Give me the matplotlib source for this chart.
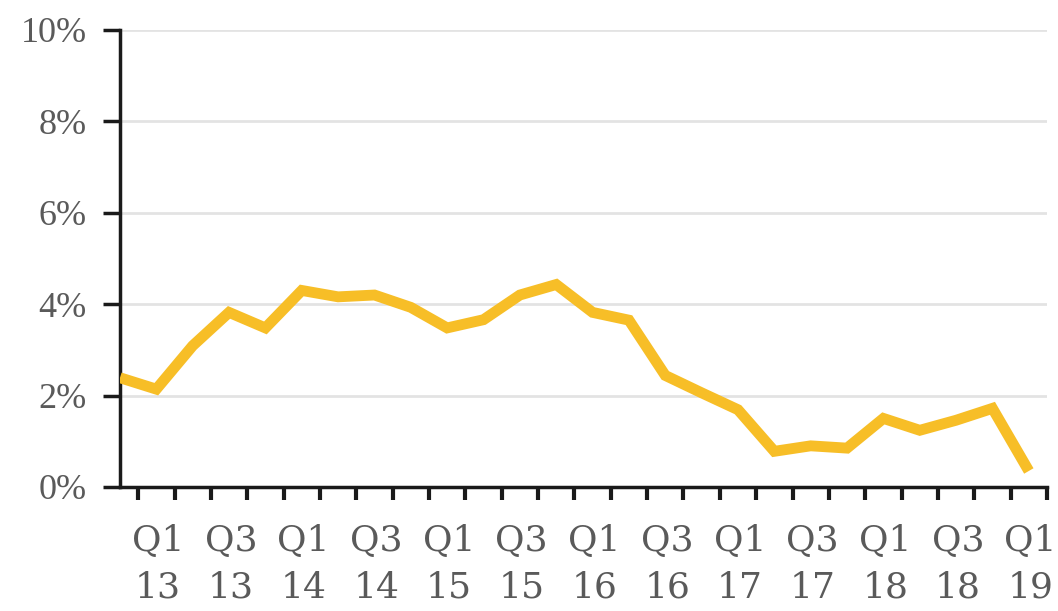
import matplotlib
matplotlib.use('Agg')
import matplotlib.pyplot as plt
import numpy as np

# Quarterly rate, Q4 2012 .. Q1 2019 (percent)
quarters = ['Q4 12',
            'Q1 13', 'Q2 13', 'Q3 13', 'Q4 13',
            'Q1 14', 'Q2 14', 'Q3 14', 'Q4 14',
            'Q1 15', 'Q2 15', 'Q3 15', 'Q4 15',
            'Q1 16', 'Q2 16', 'Q3 16', 'Q4 16',
            'Q1 17', 'Q2 17', 'Q3 17', 'Q4 17',
            'Q1 18', 'Q2 18', 'Q3 18', 'Q4 18',
            'Q1 19']
rate = [2.39, 2.14, 3.09, 3.82, 3.48, 4.30, 4.16, 4.20, 3.93, 3.48,
        3.66, 4.20, 4.43, 3.82, 3.65, 2.44, 2.06, 1.69, 0.78, 0.90,
        0.85, 1.50, 1.24, 1.46, 1.72, 0.35]
y_ticks = [0, 2, 4, 6, 8, 10]

plt.rcParams['font.family'] = ['Liberation Serif', 'DejaVu Serif']
grey = '#5a5a5a'

fig = plt.figure(figsize=(10.58, 6.11), dpi=100)
ax = fig.add_axes([0.1134, 0.203, 0.8762, 0.748])

x = np.arange(len(quarters))
ax.plot(x, rate, color='#F7BE27', linewidth=7.8, solid_joinstyle='miter',
        solid_capstyle='butt', zorder=3)

ax.set_xlim(0, len(quarters) - 0.5)
ax.set_ylim(0, 10)

ax.set_yticks(y_ticks)
ax.set_yticklabels([f'{v}%' for v in y_ticks])
ax.grid(axis='y', color='#e3e3e3', linewidth=2)
ax.set_axisbelow(True)

# tick marks sit on category boundaries, labels on Q1/Q3 points
ax.set_xticks(x + 0.5)
ax.set_xticklabels([])
lab_pos = [i for i, q in enumerate(quarters) if q[:2] in ('Q1', 'Q3')]
for i in lab_pos:
    q, yr = quarters[i].split()
    ax.text(i + 0.05, -0.082, q + '\n' + yr, transform=ax.get_xaxis_transform(),
            ha='center', va='top', fontsize=26, color=grey,
            family='DejaVu Serif', linespacing=1.45)

for s in ('top', 'right'):
    ax.spines[s].set_visible(False)
for s in ('left', 'bottom'):
    ax.spines[s].set_linewidth(2.5)
    ax.spines[s].set_color('#1a1a1a')

ax.tick_params(axis='y', length=12, width=2.5, color='#1a1a1a',
               labelsize=26, labelcolor=grey, pad=12)
ax.tick_params(axis='x', length=9, width=3, color='#1a1a1a')

plt.savefig('out.png', dpi=100)
plt.close()
